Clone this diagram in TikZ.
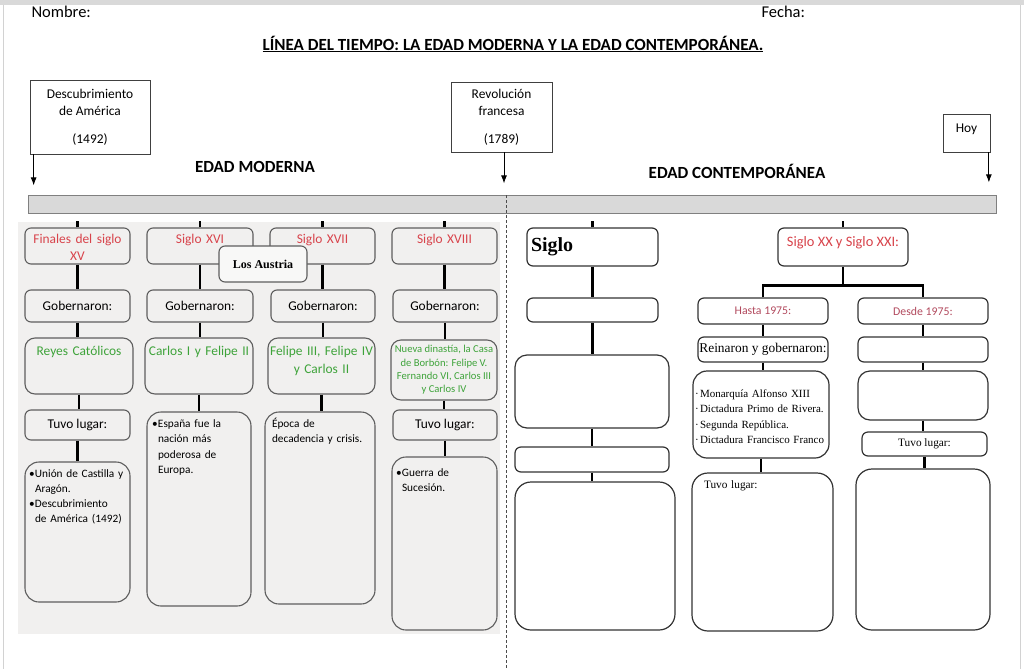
\documentclass[tikz,border=0pt]{standalone}
\usepackage{fontspec}
\setmainfont{Carlito}
\newfontfamily\cambfont{Liberation Serif}
\usetikzlibrary{arrows.meta,positioning}
\definecolor{rojo}{HTML}{D8434B}
\definecolor{granate}{HTML}{B24A5E}
\definecolor{verde}{HTML}{3EA33A}
\definecolor{borde}{HTML}{5E5E5E}
\definecolor{fondo}{HTML}{F1F0EF}
\definecolor{barra}{HTML}{D9D9D9}
\newcommand{\itm}{\makebox[6pt][l]{\textbullet}}
\newcommand{\sangr}{\hspace*{6pt}}
\newcommand{\pto}{\makebox[5pt][l]{·}}

\begin{document}
\begin{tikzpicture}[x=1pt, y=-1pt, font=\fontsize{13.4}{16}\selectfont,
    box/.style={draw=borde, rounded corners=6pt, line width=1.1pt, inner sep=3pt, align=center},
    caja/.style={draw=black!80, rounded corners=6pt, line width=1.2pt, inner sep=3pt, fill=white},
    sq/.style={draw=black!75, line width=0.7pt, inner sep=0pt, align=center, font=\fontsize{13.4}{17}\selectfont},
    link/.style={line width=2.6pt},
    flecha/.style={line width=0.8pt, -{Latex[length=8pt, width=6pt]}},
    era/.style={font=\bfseries\fontsize{17}{20}\selectfont}]
    \useasboundingbox (0,0) rectangle (1024,669);

    % page
    \fill[gray!30] (0,0) rectangle (1024,5);
    \draw[gray!35, line width=0.8pt] (3,5) -- (3,669) (1020,5) -- (1020,669);
    \fill[fondo] (18,222) rectangle (500,634);

    % header
    \node[anchor=base west, font=\fontsize{16.5}{20}\selectfont] (nombre) at (28,18) {Nombre:};
    \node[anchor=base west, font=\fontsize{16.5}{20}\selectfont] (fecha) at (758,18) {Fecha:};
    \node[anchor=base, font=\bfseries\fontsize{17}{20}\selectfont] (titulo) at (513,50)
        {\underline{LÍNEA DEL TIEMPO: LA EDAD MODERNA Y LA EDAD CONTEMPORÁNEA.}};

    % dates
    \node[sq, minimum width=120pt, minimum height=74pt] (descubr) at (90,117) {Descubrimiento\\de América\\[11pt](1492)};
    \node[sq, minimum width=101pt, minimum height=70pt] (revol) at (501.5,117) {Revolución\\francesa\\[11pt](1789)};
    \node[sq, minimum width=47pt, minimum height=38pt, text height=14pt, text depth=16pt] (hoy) at (966.5,133) {Hoy};
    \draw[flecha] (descubr.south west) ++(4,0) -- ++(0,31);
    \draw[flecha] (revol.south) ++(2.5,0) -- ++(0,31);
    \draw[flecha] (hoy.south east) ++(-1.5,0) -- ++(0,30);

    \node[era] (moderna) at (255,167) {EDAD MODERNA};
    \node[era] (contemp) at (737,171) {EDAD CONTEMPORÁNEA};

    % timeline
    \node[draw=gray, line width=1pt, fill=barra, minimum width=968pt, minimum height=18pt, inner sep=0pt] (barra) at (512,204) {};
    \draw[black!70, line width=0.8pt, dash pattern=on 3pt off 2pt] (506,195) -- (506,669);

    % Edad Moderna
    \node[box, text=rojo, text width=93pt, inner xsep=6pt, text height=12pt, text depth=18pt, font=\fontsize{13.4}{17}\selectfont] (s15) at (77.5,246) {Finales del siglo\\XV};
    \node[box, text=rojo, text width=94pt, inner xsep=6pt, text height=12pt, text depth=18pt] (s16) at (200,246) {Siglo XVI};
    \node[box, text=rojo, text width=93pt, inner xsep=6pt, text height=12pt, text depth=18pt] (s17) at (322.5,246) {Siglo XVII};
    \node[box, text=rojo, text width=93pt, inner xsep=6pt, text height=12pt, text depth=18pt] (s18) at (444.5,246) {Siglo XVIII};
    \node[box, fill=fondo!50!white, minimum width=88pt, minimum height=36pt, font=\cambfont\bfseries\fontsize{12}{14}\selectfont] (austria) at (263,264) {Los Austria};

    \node[box, minimum width=105pt, minimum height=32pt] (gob1) at (77.5,306) {Gobernaron:};
    \node[box, minimum width=106pt, minimum height=32pt] (gob2) at (200,306) {Gobernaron:};
    \node[box, minimum width=104pt, minimum height=32pt] (gob3) at (323,306) {Gobernaron:};
    \node[box, minimum width=104pt, minimum height=32pt] (gob4) at (445,306) {Gobernaron:};

    \node[box, rounded corners=10pt, text=verde, text width=104pt, inner xsep=2pt, text height=14pt, text depth=36pt] (reyes) at (79,366) {Reyes Católicos};
    \node[box, rounded corners=10pt, text=verde, text width=104pt, inner xsep=2pt, text height=14pt, text depth=36pt] (carlos) at (199,366) {Carlos I y Felipe II};
    \node[box, rounded corners=10pt, text=verde, text width=105pt, inner xsep=1pt, text height=14pt, text depth=36pt, font=\fontsize{13.4}{18}\selectfont] (felipe) at (321.5,366) {Felipe III, Felipe IV\\y Carlos II};
    \node[box, rounded corners=10pt, text=verde, minimum width=106pt, minimum height=60pt, inner xsep=1pt, font=\fontsize{10.6}{13.3}\selectfont] (borbon) at (444,370) {Nueva dinastía, la Casa\\de Borbón: Felipe V.\\Fernando VI, Carlos III\\y Carlos IV};

    \node[box, minimum width=105pt, minimum height=30pt] (lugar1) at (77.5,425) {Tuvo lugar:};
    \node[box, rounded corners=14pt, align=left, text width=94pt, inner xsep=5pt, text height=12pt, text depth=176pt, font=\fontsize{11.3}{15.5}\selectfont] (espana) at (199,509)
        {\itm España fue la\\\sangr nación más\\\sangr poderosa de\\\sangr Europa.};
    \node[box, rounded corners=14pt, align=left, text width=96pt, inner xsep=7pt, text height=12pt, text depth=174pt, font=\fontsize{11.3}{15.5}\selectfont] (epoca) at (320,508)
        {Época de\\decadencia y crisis.};
    \node[box, minimum width=104pt, minimum height=30pt] (lugar4) at (445,425) {Tuvo lugar:};

    \node[box, rounded corners=14pt, align=left, text width=97pt, inner xsep=4pt, text height=12pt, text depth=122pt, font=\fontsize{11.3}{15}\selectfont] (union) at (77.5,532)
        {\itm Unión de Castilla y\\\sangr Aragón.\\\itm Descubrimiento\\\sangr de América (1492)};
    \node[box, rounded corners=14pt, align=left, text width=97pt, inner xsep=4pt, text height=16pt, text depth=151pt, font=\fontsize{11.3}{15}\selectfont] (guerra) at (444.5,543.5)
        {\itm Guerra de\\\sangr Sucesión.};

    \foreach \n in {s15,s16,s17,s18}
        \draw[link] (\n.north) -- ++(0,-6);
    \foreach \a/\b in {s15/gob1,gob1/reyes,reyes/lugar1,lugar1/union,
                       s16/gob2,gob2/carlos,carlos/espana,
                       s17/gob3,gob3/felipe,felipe/epoca,
                       s18/gob4,gob4/borbon,borbon/lugar4,lugar4/guerra}
        \draw[link] (\a.south) -- (\a.south |- \b.north);

    % Edad Contemporanea
    \node[caja, minimum width=131pt, minimum height=38pt, text width=123pt, align=left, font=\cambfont\bfseries\fontsize{20}{24}\selectfont] (siglo) at (592.5,247) {Siglo};
    \node[caja, minimum width=131pt, minimum height=24pt] (vacio1) at (592.5,310) {};
    \node[caja, rounded corners=12pt, minimum width=154pt, minimum height=73pt] (vacio2) at (592,391.5) {};
    \node[caja, minimum width=154pt, minimum height=25pt] (vacio3) at (592,459.5) {};
    \node[caja, rounded corners=16pt, minimum width=160pt, minimum height=148pt] (vacio4) at (595,556) {};

    \node[caja, text=rojo, minimum width=130pt, minimum height=38pt, text height=15pt, text depth=17pt, font=\fontsize{14.4}{17}\selectfont] (xx) at (843,247) {Siglo XX y Siglo XXI:};
    \node[caja, text=granate, minimum width=130pt, minimum height=26pt, font=\fontsize{11.8}{13}\selectfont] (hasta) at (763,311) {Hasta 1975:};
    \node[caja, minimum width=130pt, minimum height=25pt, inner xsep=0pt, font=\cambfont\fontsize{13.4}{15}\selectfont] (reinaron) at (763,349.5) {Reinaron y gobernaron:};
    \node[caja, rounded corners=14pt, align=left, text width=132pt, inner xsep=2pt, text height=23pt, text depth=58pt, font=\cambfont\fontsize{11}{15.5}\selectfont] (lista) at (761,414.5)
        {\pto Monarquía Alfonso XIII\\\pto Dictadura Primo de Rivera.\\\pto Segunda República.\\\pto Dictadura Francisco Franco};
    \node[caja, rounded corners=16pt, text width=129pt, inner xsep=6pt, text height=12pt, text depth=140pt, align=left, font=\cambfont\fontsize{11.3}{13}\selectfont] (lugar5) at (762.5,552) {\hspace*{6pt}Tuvo lugar:};

    \node[caja, text=granate, minimum width=130pt, minimum height=26pt, font=\fontsize{11.8}{13}\selectfont] (desde) at (923,311) {Desde 1975:};
    \node[caja, minimum width=130pt, minimum height=25pt] (vacio5) at (923,349.5) {};
    \node[caja, rounded corners=12pt, minimum width=130pt, minimum height=49pt] (vacio6) at (923,395.5) {};
    \node[caja, minimum width=125pt, minimum height=24pt, font=\cambfont\fontsize{11.3}{13}\selectfont] (lugar6) at (924.5,444) {Tuvo lugar:};
    \node[caja, rounded corners=16pt, minimum width=134pt, minimum height=161pt] (vacio7) at (923,549.5) {};

    \foreach \n in {siglo,xx}
        \draw[link] (\n.north) -- ++(0,-6);
    \foreach \a/\b in {siglo/vacio1,vacio1/vacio2,vacio2/vacio3,vacio3/vacio4,
                       hasta/reinaron,reinaron/lista,lista/lugar5,
                       desde/vacio5,vacio5/vacio6,vacio6/lugar6,lugar6/vacio7}
        \draw[link] (\a.south) -- (\a.south |- \b.north);
    \draw[link] (xx.south) -- ++(0,19) coordinate (rama);
    \draw[link] (hasta.north) |- (rama) -| (desde.north);
\end{tikzpicture}
\end{document}
